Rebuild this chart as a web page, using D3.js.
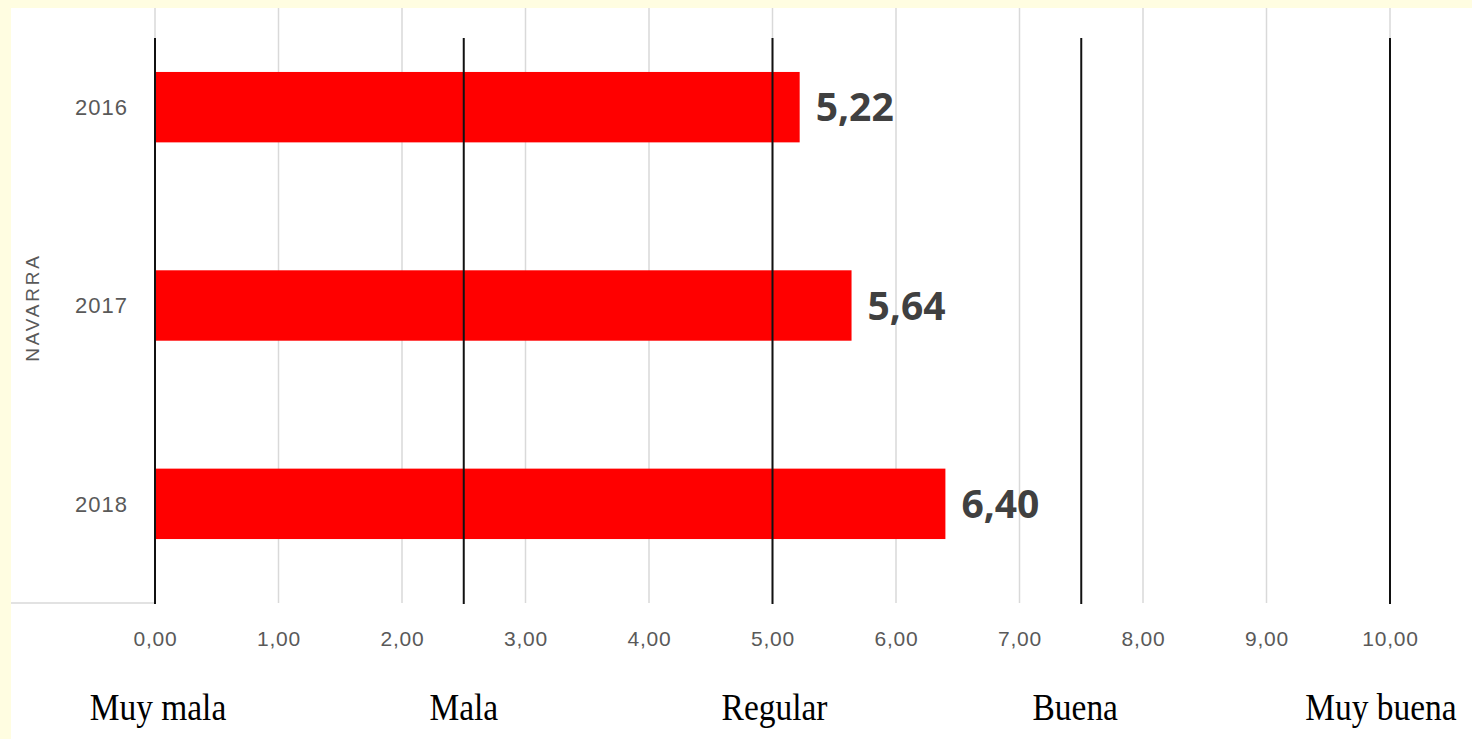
<!DOCTYPE html>
<html><head><meta charset="utf-8">
<script src="https://cdn.jsdelivr.net/npm/d3@7"></script>
<style>
html,body{margin:0;padding:0;background:#FFFDE1;}
svg{display:block;}
</style></head>
<body>
<svg id="chart" width="1472" height="739"></svg>
<script>
const categories = ["2016", "2017", "2018"];
const values = [5.22, 5.64, 6.40];
const tickValues = [0,1,2,3,4,5,6,7,8,9,10];
const bandValues = [0, 2.5, 5, 7.5, 10];
const bandLabels = ["Muy mala", "Mala", "Regular", "Buena", "Muy buena"];
const groupLabel = "NAVARRA";

const svg = d3.select("#chart");
const W = 1472, H = 739;
const locale = d3.formatLocale({decimal: ",", thousands: ".", grouping: [3], currency: ["", "€"]});
const fmt = locale.format(".2f");

svg.append("rect").attr("x", 11).attr("y", 8).attr("width", W - 11).attr("height", H - 8).attr("fill", "#ffffff");

const x = d3.scaleLinear().domain([0, 10]).range([155, 1390]);
const y = d3.scaleBand().domain(categories).range([8, 603]).paddingInner(0.645).paddingOuter(0.3225);

// light gridlines
svg.append("g").selectAll("line").data(tickValues).join("line")
  .attr("x1", d => x(d)).attr("x2", d => x(d))
  .attr("y1", 8).attr("y2", 603)
  .attr("stroke", "#d9d9d9").attr("stroke-width", 1.5);

// bottom axis line (left part)
svg.append("line").attr("x1", 11).attr("x2", x(0)).attr("y1", 603).attr("y2", 603)
  .attr("stroke", "#d9d9d9").attr("stroke-width", 1.5);

// bars
svg.append("g").selectAll("rect").data(values).join("rect")
  .attr("x", x(0)).attr("y", (d, i) => y(categories[i]))
  .attr("width", d => x(d) - x(0)).attr("height", y.bandwidth())
  .attr("fill", "#ff0000");

// black category boundary lines
svg.append("g").selectAll("line").data(bandValues).join("line")
  .attr("x1", d => x(d)).attr("x2", d => x(d))
  .attr("y1", 38).attr("y2", 604)
  .attr("stroke", "#111111").attr("stroke-width", 2);

// value labels
svg.append("g").selectAll("text").data(values).join("text")
  .attr("x", d => x(d) + 16).attr("y", (d, i) => y(categories[i]) + y.bandwidth() / 2)
  .attr("dy", "0.36em")
  .attr("font-family", "'Open Sans', 'Liberation Sans', sans-serif")
  .attr("font-weight", "bold").attr("font-size", 39).attr("fill", "#404040")
  .text(d => fmt(d));

// category labels
svg.append("g").selectAll("text").data(categories).join("text")
  .attr("x", 128).attr("y", d => y(d) + y.bandwidth() / 2)
  .attr("dy", "0.35em").attr("text-anchor", "end")
  .attr("font-family", "'Liberation Sans', Arial, sans-serif")
  .attr("font-size", 22).attr("letter-spacing", 1).attr("fill", "#595959")
  .text(d => d);

// group label
svg.append("text")
  .attr("transform", `translate(39, ${(8 + 603) / 2 + 2}) rotate(-90)`)
  .attr("text-anchor", "middle")
  .attr("font-family", "'Liberation Sans', Arial, sans-serif")
  .attr("font-size", 19).attr("letter-spacing", 2.8).attr("fill", "#595959")
  .text(groupLabel);

// x tick labels
const xAxis = d3.axisBottom(x).tickValues(tickValues).tickFormat(d => fmt(d)).tickSize(0).tickPadding(0);
const gx = svg.append("g").attr("transform", "translate(0, 631)").call(xAxis);
gx.select(".domain").remove();
gx.selectAll("text")
  .attr("font-family", "'Liberation Sans', Arial, sans-serif")
  .attr("font-size", 21).attr("letter-spacing", 0.8).attr("fill", "#595959");

// band labels
const bandOffsets = [3, 0, 2, -6, -9];
svg.append("g").selectAll("text").data(bandLabels).join("text")
  .attr("transform", (d, i) => `translate(${x(bandValues[i]) + bandOffsets[i]}, 720) scale(0.88, 1)`)
  .attr("text-anchor", "middle")
  .attr("font-family", "'Liberation Serif', 'Times New Roman', serif")
  .attr("font-size", 38).attr("fill", "#000000")
  .text(d => d);
</script>
</body></html>
